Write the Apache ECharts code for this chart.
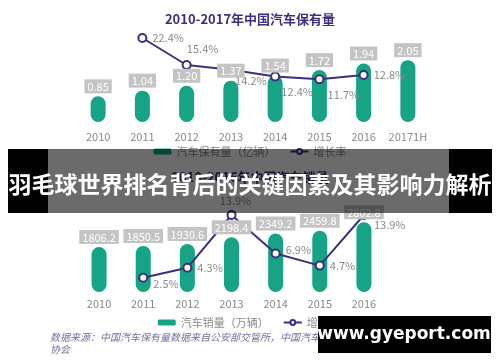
<!DOCTYPE html>
<html><head><meta charset="utf-8">
<script src="https://cdn.jsdelivr.net/npm/echarts@6/dist/echarts.min.js"></script>
<style>html,body{margin:0;padding:0;background:#fff}#c{width:500px;height:362px}</style>
</head><body><div id="c"></div>
<script>
var topCats = ['2010','2011','2012','2013','2014','2015','2016','20171H'];
var topStock = [0.85, 1.04, 1.20, 1.37, 1.54, 1.72, 1.94, 2.05];
var topGrowth = [null, 22.4, 15.4, 14.2, 12.4, 11.7, 12.8, null];
var botCats = ['2010','2011','2012','2013','2014','2015','2016'];
var botSales = [1806.2, 1850.5, 1930.6, 2198.4, 2349.2, 2459.8, 2802.8];
var botGrowth = [null, 2.5, 4.3, 13.9, 6.9, 4.7, 13.9];

var GREEN = '#16a386', PURPLE = '#3e2f7e', FONT = '"Noto Sans CJK SC","Noto Sans",sans-serif';
var topLblPos = [null, {position:'right'}, {position:'top',distance:6,offset:[16,0]}, {position:'bottom',distance:6,offset:[20,0]},
  {position:'bottom',distance:5,offset:[22,0]}, {position:'bottom',distance:5,offset:[24,0]}, {position:'right'}, null];
var botLblPos = [null, {position:'right',offset:[0,6]}, {position:'right'}, {position:'top',distance:4,offset:[4,0]},
  {position:'right',offset:[0,-4]}, {position:'right'}, {position:'right',offset:[0,10]}];
var hidden = {3:true};
function lineData(vals, pos, hide){return vals.map(function(v,i){
  if(v==null) return null;
  var d={value:v,label:pos[i]};
  if(hide && hide[i]) d.symbolSize=0;
  return d;});}
function barLabel(dec){return {show:true,position:'top',distance:3,color:'#fff',backgroundColor:'#c4c4c4',padding:[2,3,1,3],fontSize:11,fontFamily:FONT,
  formatter:function(p){return p.value.toFixed(dec);}};}
var lineLabel = {show:true,color:'#8a8a8a',fontSize:11,fontFamily:FONT,formatter:function(p){return p.value+'%';}};

var chart = echarts.init(document.getElementById('c'));
chart.setOption({
  animation:false,
  textStyle:{fontFamily:FONT},
  title:[
    {text:'2010-2017年中国汽车保有量',left:'center',top:8,textStyle:{color:PURPLE,fontSize:13,fontWeight:'bold',fontFamily:FONT}},
    {text:'2010-2016年中国汽车销量',left:'center',top:166,textStyle:{color:PURPLE,fontSize:13,fontWeight:'bold',fontFamily:FONT}}
  ],
  legend:[
    {data:['汽车保有量（亿辆）','增长率'],top:141,left:'center',itemWidth:18,itemHeight:6,itemGap:14,textStyle:{color:'#888',fontSize:11}},
    {data:['汽车销量（万辆）','增长率 '],top:312,left:'center',itemWidth:18,itemHeight:6,itemGap:14,textStyle:{color:'#888',fontSize:11}}
  ],
  grid:[
    {left:76,width:354,top:30,height:92},
    {left:77,width:309,top:200,height:92}
  ],
  xAxis:[
    {type:'category',gridIndex:0,data:topCats,axisLine:{show:false},axisTick:{show:false},axisLabel:{color:'#8a8a8a',fontSize:11,margin:9,interval:0}},
    {type:'category',gridIndex:1,data:botCats,axisLine:{show:false},axisTick:{show:false},axisLabel:{color:'#8a8a8a',fontSize:11,margin:6,interval:0}}
  ],
  yAxis:[
    {type:'value',gridIndex:0,min:0,max:3.05,show:false},
    {type:'value',gridIndex:0,min:0.64,max:24.47,show:false},
    {type:'value',gridIndex:1,min:0,max:3695,show:false},
    {type:'value',gridIndex:1,min:-0.1,max:16.63,show:false}
  ],
  series:[
    {name:'汽车保有量（亿辆）',type:'bar',xAxisIndex:0,yAxisIndex:0,data:topStock,barWidth:15,itemStyle:{color:GREEN,borderRadius:8},z:2},
    {name:'增长率',type:'line',xAxisIndex:0,yAxisIndex:1,data:lineData(topGrowth,topLblPos,hidden),connectNulls:false,clip:false,symbol:'circle',symbolSize:8,
      lineStyle:{color:PURPLE,width:2},itemStyle:{color:'#fff',borderColor:PURPLE,borderWidth:2},label:lineLabel,z:5},
    {type:'bar',xAxisIndex:0,yAxisIndex:0,data:topStock,barWidth:15,barGap:'-100%',itemStyle:{color:'transparent'},label:barLabel(2),z:8,silent:true,legendHoverLink:false},
    {name:'汽车销量（万辆）',type:'bar',xAxisIndex:1,yAxisIndex:2,data:botSales,barWidth:15,itemStyle:{color:GREEN,borderRadius:8},z:2},
    {name:'增长率 ',type:'line',xAxisIndex:1,yAxisIndex:3,data:lineData(botGrowth,botLblPos),clip:false,symbol:'circle',symbolSize:8,
      lineStyle:{color:PURPLE,width:2},itemStyle:{color:'#fff',borderColor:PURPLE,borderWidth:2},label:lineLabel,z:5},
    {type:'bar',xAxisIndex:1,yAxisIndex:2,data:botSales,barWidth:15,barGap:'-100%',itemStyle:{color:'transparent'},label:barLabel(1),z:8,silent:true,legendHoverLink:false}
  ],
  graphic:[
    {type:'text',left:50,top:331,style:{text:'数据来源：中国汽车保有量数据来自公安部交管所，中国汽车销量数据来自中国汽车工业协会\n协会',fill:'#7a6fa0',font:'italic 10px "Noto Sans CJK SC",sans-serif',lineHeight:12,width:400,overflow:'truncate'}},
    {type:'rect',shape:{x:48,y:149,width:401,height:64},style:{fill:'rgba(0,0,0,0.58)'},z:100},
    {type:'rect',shape:{x:8,y:149,width:40,height:64},style:{fill:'#000'},z:100},
    {type:'rect',shape:{x:449,y:149,width:43,height:64},style:{fill:'#000'},z:100},
    {type:'text',x:250,y:184,style:{text:'羽毛球世界排名背后的关键因素及其影响力解析',fill:'#fff',fontSize:23,fontWeight:'bold',fontFamily:FONT,align:'center',verticalAlign:'middle'},z:101},
    {type:'rect',shape:{x:318,y:316,width:173,height:37},style:{fill:'#000'},z:100},
    {type:'text',x:404,y:335,style:{text:'www.gyeport.com',fill:'#fff',fontSize:17,fontWeight:'bold',fontFamily:'"DejaVu Sans",sans-serif',align:'center',verticalAlign:'middle'},z:101}
  ]
});
</script></body></html>
